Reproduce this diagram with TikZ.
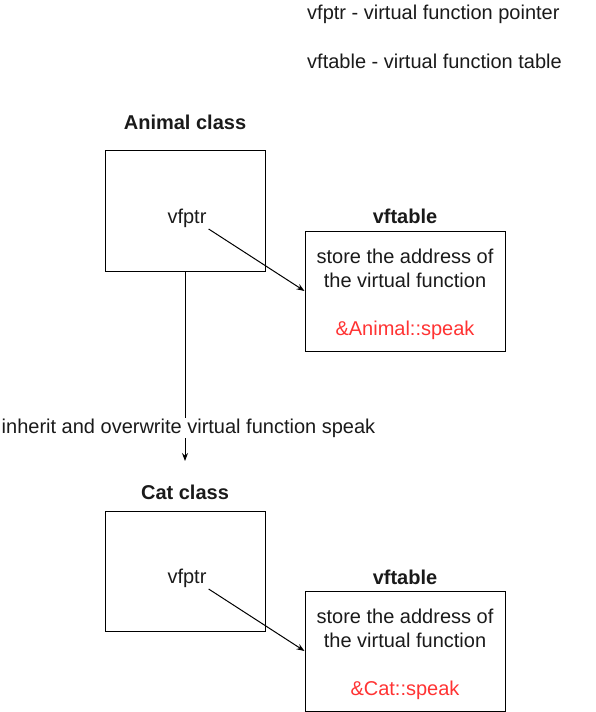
\documentclass[tikz,border=0pt]{standalone}
\usepackage{fontspec}
\setmainfont{Liberation Sans}
\usetikzlibrary{arrows.meta}
\definecolor{speakred}{RGB}{255,51,51}
\definecolor{inkgray}{RGB}{26,26,26}
\tikzset{
    classbox/.style={draw, line width=1bp, minimum width=160bp, minimum height=120bp},
    tablebox/.style={draw, line width=1bp, minimum width=200bp, minimum height=120bp, align=center},
    boxtitle/.style={font=\fontsize{20bp}{24bp}\selectfont\bfseries},
    ptrtext/.style={inner xsep=2bp, inner ysep=1.5bp},
    ptr/.style={-{Stealth[length=8bp,width=6bp]}, line width=1bp},
}
\newcommand{\toprule}{\rule{0pt}{20.5bp}}
\begin{document}
\begin{tikzpicture}[x=1bp, y=-1bp, font=\fontsize{20bp}{24bp}\selectfont, text=inkgray]
\useasboundingbox (0,0) rectangle (596,712);
% legend
\node[anchor=west, inner sep=0] (legptr) at (307,14) {vfptr - virtual function pointer};
\node[anchor=west, inner sep=0] (legtab) at (307,61) {vftable - virtual function table};
% Animal class
\node[boxtitle] (animaltitle) at (185,122) {Animal class};
\node[classbox] (animal) at (185,211) {};
\node[ptrtext] (ptrA) at (187,218) {vfptr};
\node[boxtitle] (tabtitleA) at (405,216) {vftable};
\node[tablebox] (tabA) at (405,291) {\toprule store the address of\\the virtual function\\[24bp]\textcolor{speakred}{\&Animal::speak}};
\draw[ptr] (ptrA.south east) -- (tabA.west);
% inherit
\coordinate (inhend) at (185,461);
\draw[ptr] (animal.south) -- (inhend)
    node[pos=0.826, xshift=3.5bp, fill=white, inner sep=1bp] (inhlabel) {inherit and overwrite virtual function speak};
% Cat class
\node[boxtitle] (cattitle) at (185,492) {Cat class};
\node[classbox] (cat) at (185,571) {};
\node[ptrtext] (ptrC) at (187,578) {vfptr};
\node[boxtitle] (tabtitleC) at (405,577) {vftable};
\node[tablebox] (tabC) at (405,651) {\toprule store the address of\\the virtual function\\[24bp]\textcolor{speakred}{\&Cat::speak}};
\draw[ptr] (ptrC.south east) -- (tabC.west);
\end{tikzpicture}
\end{document}
